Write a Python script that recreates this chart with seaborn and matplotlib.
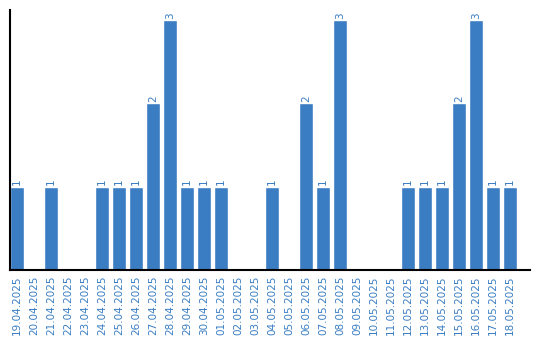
import matplotlib
matplotlib.use("Agg")
import matplotlib.pyplot as plt
import seaborn as sns
import pandas as pd

dates = ["19.04.2025", "20.04.2025", "21.04.2025", "22.04.2025", "23.04.2025",
         "24.04.2025", "25.04.2025", "26.04.2025", "27.04.2025", "28.04.2025",
         "29.04.2025", "30.04.2025", "01.05.2025", "02.05.2025", "03.05.2025",
         "04.05.2025", "05.05.2025", "06.05.2025", "07.05.2025", "08.05.2025",
         "09.05.2025", "10.05.2025", "11.05.2025", "12.05.2025", "13.05.2025",
         "14.05.2025", "15.05.2025", "16.05.2025", "17.05.2025", "18.05.2025"]
counts = [1, 0, 1, 0, 0, 1, 1, 1, 2, 3,
          1, 1, 1, 0, 0, 1, 0, 2, 1, 3,
          0, 0, 0, 1, 1, 1, 2, 3, 1, 1]

blue = "#3a7dc2"
sns.set_style("white")
plt.rcParams["font.family"] = ["DejaVu Sans"]

df = pd.DataFrame({"date": dates, "count": counts})

fig = plt.figure(figsize=(5.4, 3.4), dpi=100)
ax = fig.add_axes([10 / 540, 70 / 340, 520 / 540, 260 / 340])
sns.barplot(data=df, x="date", y="count", color=blue, saturation=1,
            width=0.82, ax=ax)

ax.set_xlim(-0.41, -0.41 + 520 / 17)
ax.set_ylim(0, 3.12)
ax.set_xlabel("")
ax.set_ylabel("")
ax.set_yticks([])
ax.tick_params(axis="x", length=0, pad=4, labelsize=7.5, labelcolor=blue,
               rotation=90)
for s in ["top", "right"]:
    ax.spines[s].set_visible(False)
for s in ["left", "bottom"]:
    ax.spines[s].set_color("black")
    ax.spines[s].set_linewidth(1.5)

labels = [str(v) if v > 0 else "" for v in counts]
ax.bar_label(ax.containers[0], labels=labels, rotation=90, padding=1,
             fontsize=7.5, color=blue)

fig.savefig("out.png", dpi=100)
